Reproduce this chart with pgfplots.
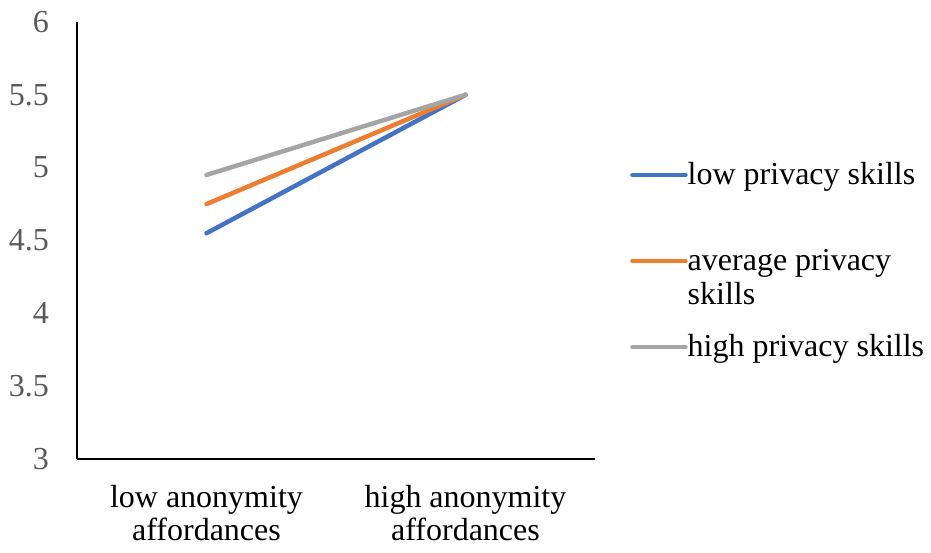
\documentclass[border=0pt]{standalone}
\usepackage{fontspec}
\setmainfont{Liberation Serif}
\usepackage{pgfplots}
\pgfplotsset{compat=1.18}

\definecolor{lowc}{HTML}{4472C4}
\definecolor{avgc}{HTML}{ED7D31}
\definecolor{highc}{HTML}{A5A5A5}
\definecolor{ticktext}{HTML}{595959}

\newcommand{\legentry}[1]{\begin{tabular}[t]{@{}l@{}}#1\end{tabular}}

\begin{document}
\begin{tikzpicture}
\begin{axis}[
  scale only axis,
  width=518pt, height=437pt,
  xmin=-0.5, xmax=1.5,
  ymin=3, ymax=6,
  ytick={3,3.5,...,6},
  xtick={0,1},
  xticklabels={{low anonymity\\affordances},{high anonymity\\affordances}},
  axis x line=bottom, axis y line=left,
  axis line style={-, black, line width=1.3pt},
  major tick length=0pt,
  /pgf/number format/assume math mode=true,
  yticklabel style={font=\fontsize{32}{34}\selectfont, text=ticktext, anchor=east, inner sep=0pt, xshift=-28pt},
  xticklabel style={font=\fontsize{32}{33}\selectfont, text=black, align=center, anchor=north, inner sep=0pt, yshift=-26pt},
  legend style={draw=none, fill=none, inner sep=0pt, at={(rel axis cs:1.0676,0.698)}, anchor=north west,
    row sep=0pt, nodes={inner sep=0pt, text height=30pt, text depth=56pt, anchor=base west},
    font=\fontsize{32}{34}\selectfont},
  legend image code/.code={\draw[#1, line width=4.5pt, line cap=round] (0pt,9pt) -- (53pt,9pt);},
  every axis plot/.append style={line width=4.5pt, line cap=round},
]
\addplot[lowc] coordinates {(0,4.55) (1,5.5)};
\addplot[avgc] coordinates {(0,4.75) (1,5.5)};
\addplot[highc] coordinates {(0,4.95) (1,5.5)};
\legend{\legentry{low privacy skills},\legentry{average privacy\\skills},\legentry{high privacy skills}}
\end{axis}
\pgfresetboundingbox
\useasboundingbox (current axis.south west) ++(-77pt,-94pt) rectangle ++(931pt,553pt);
\end{tikzpicture}
\end{document}
